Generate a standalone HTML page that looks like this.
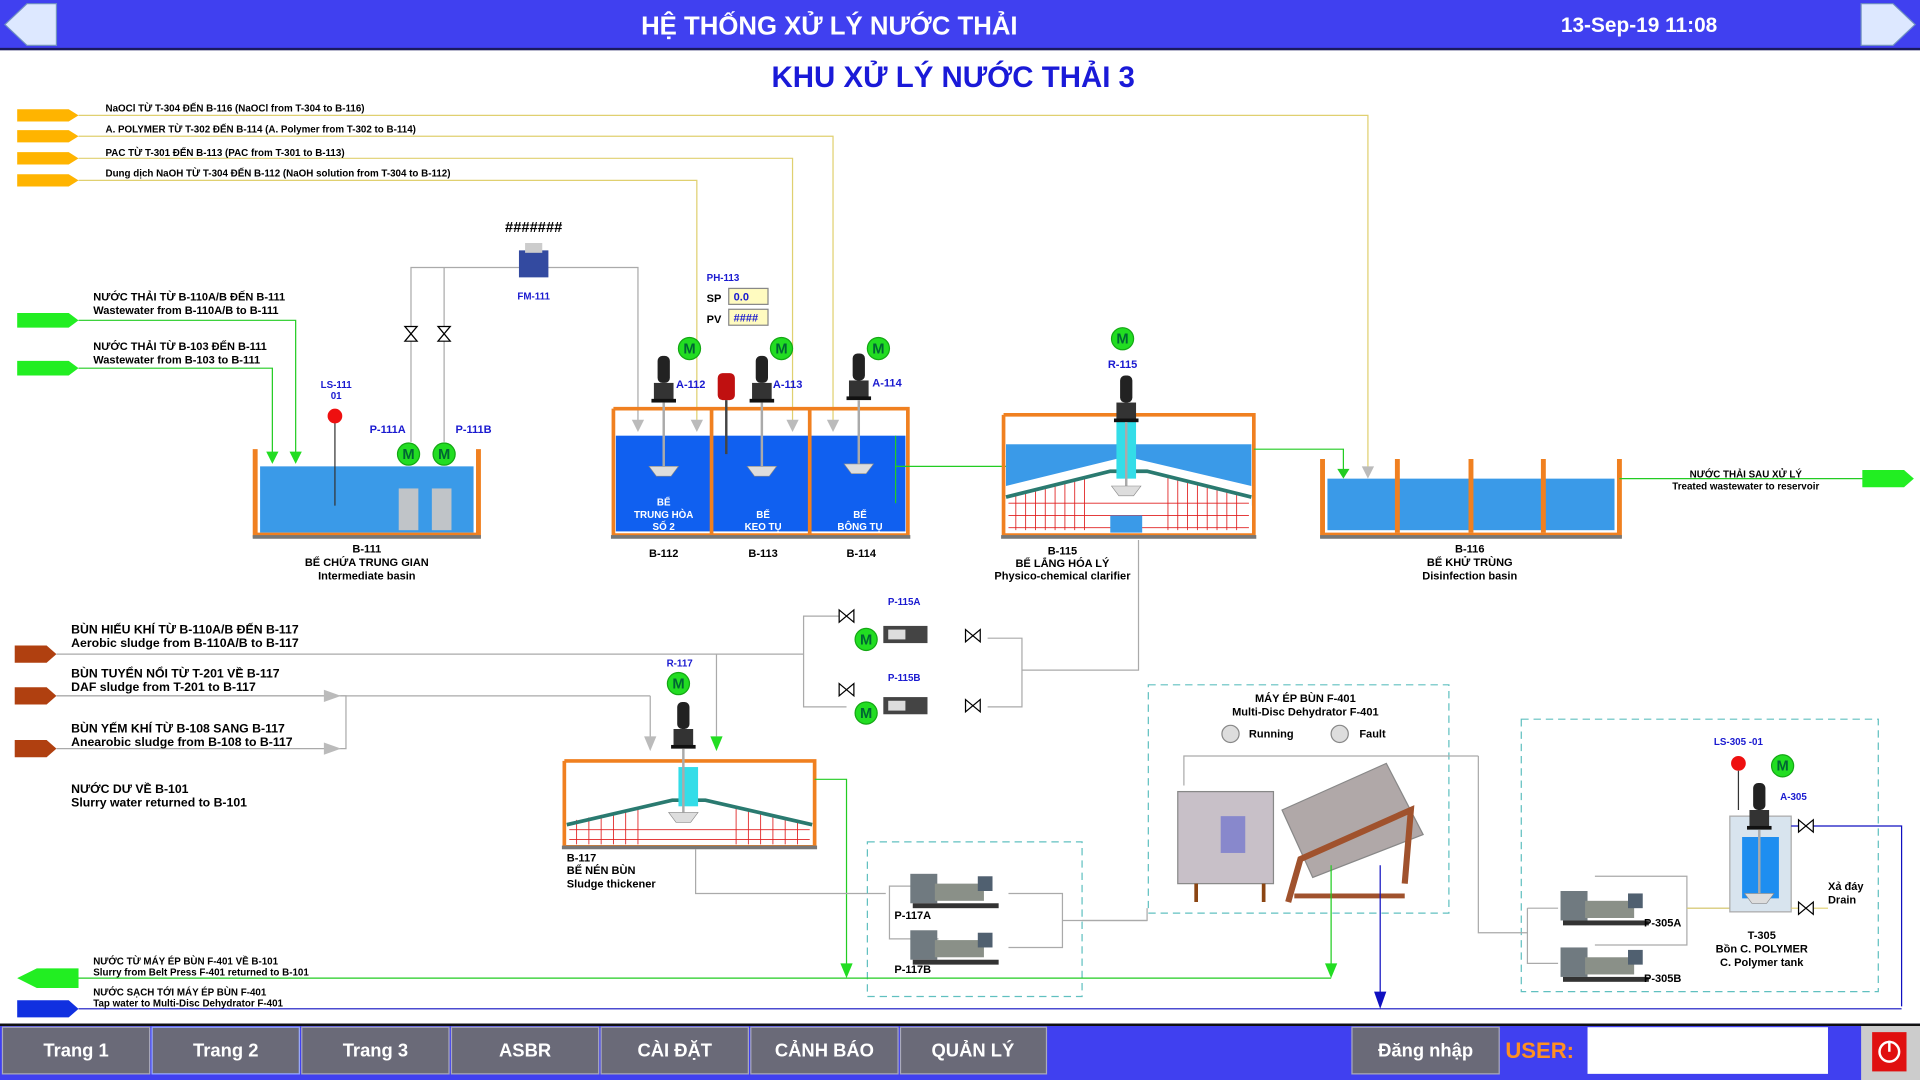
<!DOCTYPE html>
<html><head><meta charset="utf-8"><style>
html,body{margin:0;padding:0;background:#fff;overflow:hidden}
svg{display:block}
text{font-family:"Liberation Sans",sans-serif}
.s{font-size:9px;font-weight:bold;fill:#000}
.b{font-size:10px;font-weight:bold;fill:#000}
.bl{font-size:9px;font-weight:bold;fill:#1a1ad0}
.w{font-size:9px;font-weight:bold;fill:#fff}
</style></head><body>
<svg width="1920" height="1080" viewBox="0 0 1565 880" preserveAspectRatio="none" xmlns="http://www.w3.org/2000/svg">
<defs>
<g id="mot"><circle r="9" fill="#22dd22" stroke="#14a814"/><text y="4" text-anchor="middle" style="font-size:12px;font-weight:bold;fill:#063">M</text></g>
<g id="mix"><rect x="-5" y="-40" width="10" height="22" rx="4" fill="#222"/><rect x="-8" y="-18" width="16" height="14" fill="#333"/><rect x="-10" y="-5" width="20" height="3" fill="#111"/><line x1="0" y1="-2" x2="0" y2="52" stroke="#aaa" stroke-width="2"/><path d="M-12 50 L12 50 L6 58 L-6 58Z" fill="#ddd" stroke="#888" stroke-width=".5"/></g>
<g id="vlv"><path d="M-6 -5 L6 5 L6 -5 L-6 5Z" fill="#fff" stroke="#000"/></g>
<g id="vv"><path d="M-5 -6 L5 6 L-5 6 L5 -6Z" fill="#fff" stroke="#000"/></g>
<g id="pump"><rect x="0" y="0" width="22" height="24" fill="#707a80"/><rect x="20" y="8" width="40" height="14" fill="#8a9088"/><rect x="55" y="2" width="12" height="12" fill="#506070"/><rect x="2" y="24" width="70" height="4" fill="#333"/></g>
</defs>
<!-- header -->
<rect x="0" y="0" width="1565" height="40" fill="#4040f0"/>
<rect x="0" y="39" width="1565" height="2" fill="#1a1a60"/>
<path d="M4 20 L22 3 L46 3 L46 37 L22 37Z" fill="#dde8ff" stroke="#7090c0"/>
<path d="M1561 20 L1543 3 L1517 3 L1517 37 L1543 37Z" fill="#dde8ff" stroke="#7090c0"/>
<text x="676" y="28" text-anchor="middle" style="font-size:21px;font-weight:bold;fill:#fff">HỆ THỐNG XỬ LÝ NƯỚC THẢI</text>
<text x="1336" y="26" text-anchor="middle" style="font-size:17px;font-weight:bold;fill:#fff">13-Sep-19 11:08</text>
<text x="777" y="71" text-anchor="middle" style="font-size:24px;font-weight:bold;fill:#1a1ad8">KHU  XỬ LÝ NƯỚC THẢI 3</text>

<!-- chemical lines -->
<g fill="#ffb400">
<path d="M14 89 L56 89 L64 94 L56 99 L14 99Z"/><path d="M14 106 L56 106 L64 111 L56 116 L14 116Z"/><path d="M14 124 L56 124 L64 129 L56 134 L14 134Z"/><path d="M14 142 L56 142 L64 147 L56 152 L14 152Z"/>
</g>
<g stroke="#e0d070" fill="none">
<path d="M64 94 H1115 V385"/><path d="M64 111 H679 V350"/><path d="M64 129 H646 V350"/><path d="M64 147 H568 V350"/>
</g>
<text x="86" y="91" class="s" style="font-size:8px">NaOCl TỪ T-304 ĐẾN B-116 (NaOCl from T-304 to B-116)</text>
<text x="86" y="108" class="s" style="font-size:8px">A. POLYMER TỪ T-302 ĐẾN B-114 (A. Polymer from T-302 to B-114)</text>
<text x="86" y="127" class="s" style="font-size:8px">PAC TỪ T-301 ĐẾN B-113 (PAC from T-301 to B-113)</text>
<text x="86" y="144" class="s" style="font-size:8px">Dung dịch NaOH TỪ T-304 ĐẾN B-112 (NaOH solution from T-304 to B-112)</text>

<!-- inflow green -->
<g fill="#22ee22"><path d="M14 255 L56 255 L64 261 L56 267 L14 267Z"/><path d="M14 294 L56 294 L64 300 L56 306 L14 306Z"/></g>
<g stroke="#22cc22" fill="none"><path d="M64 261 H241 V372"/><path d="M64 300 H222 V372"/></g>
<path d="M236 368 L246 368 L241 378Z M217 368 L227 368 L222 378Z" fill="#22dd22"/>
<text x="76" y="245" class="s">NƯỚC THẢI TỪ B-110A/B ĐẾN B-111</text>
<text x="76" y="256" class="s">Wastewater from B-110A/B to B-111</text>
<text x="76" y="285" class="s">NƯỚC THẢI TỪ B-103 ĐẾN B-111</text>
<text x="76" y="296" class="s">Wastewater from B-103 to B-111</text>

<!-- B-111 -->
<rect x="212" y="380" width="174" height="54" fill="#3a9ae8"/>
<path d="M208 366 V436 H390 V366" fill="none" stroke="#f08020" stroke-width="4"/>
<rect x="206" y="436" width="186" height="3" fill="#777"/>
<line x1="273" y1="340" x2="273" y2="412" stroke="#333"/><circle cx="273" cy="339" r="6" fill="#ee1010"/>
<text x="274" y="316" text-anchor="middle" class="bl" style="font-size:8px">LS-111</text><text x="274" y="325" text-anchor="middle" class="bl" style="font-size:8px">01</text>
<text x="316" y="353" text-anchor="middle" class="bl">P-111A</text><text x="386" y="353" text-anchor="middle" class="bl">P-111B</text>
<g stroke="#aaa" fill="none"><path d="M335 360 V218 H520 V350"/><path d="M362 360 V218"/></g>
<use href="#vv" x="335" y="272"/><use href="#vv" x="362" y="272"/>
<use href="#mot" x="333" y="370"/><use href="#mot" x="362" y="370"/>
<rect x="325" y="398" width="16" height="34" fill="#c0c4c8"/><rect x="352" y="398" width="16" height="34" fill="#c0c4c8"/>
<rect x="423" y="204" width="24" height="22" fill="#334aa0"/><rect x="428" y="198" width="14" height="8" fill="#ccc"/>
<text x="435" y="189" text-anchor="middle" class="b" style="font-size:12px">#######</text>
<text x="435" y="244" text-anchor="middle" class="bl" style="font-size:8px">FM-111</text>
<text x="299" y="450" text-anchor="middle" class="s">B-111</text>
<text x="299" y="461" text-anchor="middle" class="s">BỂ CHỨA TRUNG GIAN</text>
<text x="299" y="472" text-anchor="middle" class="s">Intermediate basin</text>

<!-- B-112/113/114 -->
<rect x="502" y="355" width="236" height="78" fill="#1060f0"/>
<path d="M500 333 V436 H740 V333 H500" fill="none" stroke="#f08020" stroke-width="3"/>
<line x1="580" y1="333" x2="580" y2="436" stroke="#f08020" stroke-width="3"/><line x1="660" y1="333" x2="660" y2="436" stroke="#f08020" stroke-width="3"/>
<rect x="498" y="436" width="244" height="3" fill="#777"/>
<g fill="#bbb"><path d="M515 342 H525 L520 352Z M563 342 H573 L568 352Z M641 342 H651 L646 352Z M674 342 H684 L679 352Z"/></g>
<use href="#mix" x="541" y="330"/><use href="#mix" x="621" y="330"/><use href="#mix" x="700" y="328"/>
<rect x="585" y="304" width="14" height="22" rx="4" fill="#c01010"/><line x1="592" y1="326" x2="592" y2="370" stroke="#444" stroke-width="2"/>
<use href="#mot" x="562" y="284"/><use href="#mot" x="637" y="284"/><use href="#mot" x="716" y="284"/>
<text x="551" y="316" class="bl">A-112</text><text x="630" y="316" class="bl">A-113</text><text x="711" y="315" class="bl">A-114</text>
<text x="576" y="229" class="bl" style="font-size:8px">PH-113</text>
<text x="576" y="246" class="s">SP</text><text x="576" y="263" class="s">PV</text>
<rect x="594" y="235" width="32" height="13" fill="#fffbc0" stroke="#888"/><rect x="594" y="252" width="32" height="13" fill="#fffbc0" stroke="#888"/>
<text x="598" y="245" class="bl">0.0</text><text x="598" y="262" class="bl">####</text>
<text x="541" y="412" text-anchor="middle" class="w" style="font-size:8px">BỂ</text><text x="541" y="422" text-anchor="middle" class="w" style="font-size:8px">TRUNG HÒA</text><text x="541" y="432" text-anchor="middle" class="w" style="font-size:8px">SỐ 2</text>
<text x="622" y="422" text-anchor="middle" class="w" style="font-size:8px">BỂ</text><text x="622" y="432" text-anchor="middle" class="w" style="font-size:8px">KEO TỤ</text>
<text x="701" y="422" text-anchor="middle" class="w" style="font-size:8px">BỂ</text><text x="701" y="432" text-anchor="middle" class="w" style="font-size:8px">BÔNG TỤ</text>
<text x="541" y="454" text-anchor="middle" class="s">B-112</text><text x="622" y="454" text-anchor="middle" class="s">B-113</text><text x="702" y="454" text-anchor="middle" class="s">B-114</text>
<line x1="730" y1="380" x2="905" y2="380" stroke="#22cc22"/><path d="M895 374 L910 380 L895 386Z" fill="#22cc22"/>
<line x1="730" y1="355" x2="730" y2="410" stroke="#22cc22"/>

<!-- B-115 -->
<rect x="820" y="362" width="200" height="50" fill="#3a9ae8"/>
<path d="M820 396 L918 372 L1020 396 L1020 432 L820 432Z" fill="#fff"/>
<g stroke="#e02020" stroke-width=".7">
<path d="M822 410 H1018 M822 420 H1018 M822 430 H1018"/>
<path d="M828 402V432 M836 400V432 M844 398V432 M852 396V432 M860 394V432 M868 392V432 M876 390V432 M884 388V432 M952 388V432 M960 390V432 M968 392V432 M976 394V432 M984 396V432 M992 398V432 M1000 400V432 M1008 402V432"/>
</g>
<path d="M820 405 L905 384 L935 384 L1020 405" fill="none" stroke="#2a7a70" stroke-width="3"/>
<rect x="905" y="420" width="26" height="14" fill="#3a9ae8"/>
<rect x="910" y="340" width="16" height="50" fill="#33dde8"/>
<path d="M818 338 V436 H1022 V338 H818" fill="none" stroke="#f08020" stroke-width="3"/>
<rect x="816" y="436" width="208" height="3" fill="#777"/>
<use href="#mix" x="918" y="346"/>
<use href="#mot" x="915" y="276"/><text x="915" y="300" text-anchor="middle" class="bl">R-115</text>
<text x="866" y="452" text-anchor="middle" class="s">B-115</text><text x="866" y="462" text-anchor="middle" class="s">BỂ LẮNG HÓA LÝ</text><text x="866" y="472" text-anchor="middle" class="s">Physico-chemical clarifier</text>
<path d="M1022 366 H1095 V385" fill="none" stroke="#22cc22"/><path d="M1090 382 H1100 L1095 390Z" fill="#22cc22"/>
<path d="M1110 380 H1120 L1115 390Z" fill="#bbb"/>

<!-- B-116 -->
<rect x="1082" y="390" width="234" height="42" fill="#3a9ae8"/>
<path d="M1078 374 V436 H1320 V374" fill="none" stroke="#f08020" stroke-width="4"/>
<g fill="#f08020"><rect x="1137" y="374" width="4" height="60"/><rect x="1197" y="374" width="4" height="60"/><rect x="1256" y="374" width="4" height="60"/></g>
<rect x="1076" y="436" width="246" height="3" fill="#777"/>
<text x="1198" y="450" text-anchor="middle" class="s">B-116</text><text x="1198" y="461" text-anchor="middle" class="s">BỂ KHỬ TRÙNG</text><text x="1198" y="472" text-anchor="middle" class="s">Disinfection basin</text>
<line x1="1320" y1="390" x2="1520" y2="390" stroke="#22cc22"/>
<path d="M1518 383 L1552 383 L1560 390 L1552 397 L1518 397Z" fill="#22ee22"/>
<text x="1423" y="389" text-anchor="middle" class="s" style="font-size:8px">NƯỚC THẢI SAU XỬ LÝ</text>
<text x="1423" y="399" text-anchor="middle" class="s" style="font-size:8px">Treated wastewater to reservoir</text>

<!-- sludge inputs -->
<g fill="#b04010"><path d="M12 526 L38 526 L46 533 L38 540 L12 540Z"/><path d="M12 560 L38 560 L46 567 L38 574 L12 574Z"/><path d="M12 603 L38 603 L46 610 L38 617 L12 617Z"/></g>
<g stroke="#aaa" fill="none">
<path d="M46 533 H655 M46 567 H282 V610 H46 M270 567 M530 567 V605 M928 440 V546 H833 V520 M805 520 H833 V576 H805 M690 502 H655 V576 H690 M584 533 V600"/>
<path d="M46 567 H530"/>
</g>
<path d="M264 562 L278 567 L264 572Z M264 605 L278 610 L264 615Z M525 600 H535 L530 612Z" fill="#bbb"/>
<path d="M579 600 H589 L584 612Z" fill="#22dd22"/>
<text x="58" y="516" class="b">BÙN HIẾU KHÍ TỪ B-110A/B ĐẾN B-117</text><text x="58" y="527" class="b">Aerobic sludge from B-110A/B to B-117</text>
<text x="58" y="552" class="b">BÙN TUYỂN NỔI TỪ T-201 VỀ B-117</text><text x="58" y="563" class="b">DAF sludge from T-201 to B-117</text>
<text x="58" y="597" class="b">BÙN YẾM KHÍ TỪ B-108 SANG B-117</text><text x="58" y="608" class="b">Anearobic sludge from B-108 to B-117</text>
<text x="58" y="646" class="b">NƯỚC DƯ VỀ B-101</text><text x="58" y="657" class="b">Slurry water returned to B-101</text>

<!-- P-115 -->
<use href="#vlv" x="690" y="502"/><use href="#vlv" x="793" y="518"/><use href="#vlv" x="690" y="562"/><use href="#vlv" x="793" y="575"/>
<use href="#mot" x="706" y="521"/><use href="#mot" x="706" y="581"/>
<rect x="720" y="510" width="36" height="14" fill="#444"/><rect x="724" y="513" width="14" height="8" fill="#ddd"/>
<rect x="720" y="568" width="36" height="14" fill="#444"/><rect x="724" y="571" width="14" height="8" fill="#ddd"/>
<text x="737" y="493" text-anchor="middle" class="bl" style="font-size:8px">P-115A</text><text x="737" y="555" text-anchor="middle" class="bl" style="font-size:8px">P-115B</text>

<!-- B-117 -->
<path d="M462 668 L560 640 L662 668 L662 688 L462 688Z" fill="#fff"/>
<g stroke="#e02020" stroke-width=".7"><path d="M464 676H660 M464 684H660 M470 668V688 M480 666V688 M490 664V688 M500 662V688 M510 660V688 M520 658V688 M600 658V688 M610 660V688 M620 662V688 M630 664V688 M640 666V688 M650 668V688"/></g>
<path d="M462 672 L548 652 L575 652 L662 672" fill="none" stroke="#2a7a70" stroke-width="3"/>
<rect x="553" y="625" width="16" height="32" fill="#33dde8"/>
<path d="M460 620 V690 H664 V620 H460" fill="none" stroke="#f08020" stroke-width="3"/>
<rect x="458" y="689" width="208" height="3" fill="#777"/>
<use href="#mix" x="557" y="612"/>
<use href="#mot" x="553" y="557"/><text x="554" y="543" text-anchor="middle" class="bl" style="font-size:8px">R-117</text>
<text x="462" y="702" class="s">B-117</text><text x="462" y="712" class="s">BỂ NÉN BÙN</text><text x="462" y="723" class="s">Sludge thickener</text>
<path d="M664 635 H690 V790" fill="none" stroke="#22cc22"/><path d="M685 785 H695 L690 797Z" fill="#22dd22"/>
<path d="M567 692 V728 H722" fill="none" stroke="#aaa"/>

<!-- P-117 box -->
<rect x="707" y="686" width="175" height="126" fill="none" stroke="#60c0c0" stroke-dasharray="6,4"/>
<path d="M765 722 H725 V765 H765 M822 728 H866 V772 H822 M866 750 H935" fill="none" stroke="#aaa"/>
<use href="#pump" x="742" y="712"/><use href="#pump" x="742" y="758"/>
<text x="729" y="749" class="s">P-117A</text><text x="729" y="793" class="s">P-117B</text>

<!-- F-401 -->
<rect x="936" y="558" width="245" height="186" fill="none" stroke="#60c0c0" stroke-dasharray="6,4"/>
<text x="1064" y="572" text-anchor="middle" class="s">MÁY ÉP BÙN F-401</text><text x="1064" y="583" text-anchor="middle" class="s">Multi-Disc Dehydrator F-401</text>
<circle cx="1003" cy="598" r="7" fill="#ddd" stroke="#888"/><text x="1018" y="601" class="s">Running</text>
<circle cx="1092" cy="598" r="7" fill="#ddd" stroke="#888"/><text x="1108" y="601" class="s">Fault</text>
<path d="M1205 616 H965 V640" fill="none" stroke="#aaa"/>
<rect x="960" y="645" width="78" height="75" fill="#c8c0c8" stroke="#888"/>
<rect x="995" y="665" width="20" height="30" fill="#88c"/>
<path d="M975 720 V735 M1030 720 V735" stroke="#8b4513" stroke-width="3"/>
<path d="M1045 660 L1130 622 L1160 680 L1070 715Z" fill="#b0a8a8" stroke="#888"/>
<path d="M1050 735 L1060 700 L1150 660 L1145 720" fill="none" stroke="#a0522d" stroke-width="5"/>
<path d="M1055 730 H1145" stroke="#a0522d" stroke-width="4"/>
<path d="M1085 705 V795" stroke="#22cc22" fill="none"/><path d="M1080 785 H1090 L1085 797Z" fill="#22dd22"/>
<path d="M1125 705 V815" stroke="#1010c0" fill="none"/><path d="M1120 808 H1130 L1125 822Z" fill="#1010c0"/>
<path d="M882 750 H935 V740" fill="none" stroke="#aaa"/>

<!-- T-305 box -->
<rect x="1240" y="586" width="291" height="222" fill="none" stroke="#60c0c0" stroke-dasharray="6,4"/>
<path d="M1205 616 V760 H1245 M1245 740 V785 H1270 M1245 740 H1270 M1300 714 H1375 V745 M1300 770 H1375 V745 M1375 740 H1410" fill="none" stroke="#aaa"/>
<path d="M1375 740 H1410" stroke="#e0d070"/>
<use href="#pump" x="1272" y="726"/><use href="#pump" x="1272" y="772"/>
<text x="1340" y="755" class="s">P-305A</text><text x="1340" y="800" class="s">P-305B</text>
<rect x="1410" y="665" width="50" height="78" fill="#d8e4ee" stroke="#aaa"/>
<rect x="1420" y="682" width="30" height="50" fill="#1e8ef0"/>
<use href="#mix" x="1434" y="678" transform="translate(0,0)"/>
<circle cx="1417" cy="622" r="6" fill="#ee1010"/><line x1="1417" y1="628" x2="1417" y2="660" stroke="#333"/>
<use href="#mot" x="1453" y="624"/><text x="1417" y="607" text-anchor="middle" class="bl" style="font-size:8px">LS-305 -01</text>
<text x="1451" y="652" class="bl" style="font-size:8px">A-305</text>
<path d="M1460 673 H1550 V820" fill="none" stroke="#1010c0"/><path d="M1460 740 H1490" stroke="#e0d070"/>
<use href="#vv" x="1472" y="673" transform="rotate(90 1472 673)"/><use href="#vv" x="1472" y="740" transform="rotate(90 1472 740)"/>
<text x="1490" y="725" class="s">Xả đáy</text><text x="1490" y="736" class="s">Drain</text>
<text x="1436" y="765" text-anchor="middle" class="s">T-305</text><text x="1436" y="776" text-anchor="middle" class="s">Bồn C. POLYMER</text><text x="1436" y="787" text-anchor="middle" class="s">C. Polymer tank</text>

<!-- bottom lines -->
<path d="M60 797 H1085" stroke="#22cc22"/><path d="M14 797 L30 789 L64 789 L64 805 L30 805Z" fill="#22ee22"/>
<path d="M64 822 H1550" stroke="#1010c0"/><path d="M14 815 L56 815 L64 822 L56 829 L14 829Z" fill="#1030e0"/>
<text x="76" y="786" class="s" style="font-size:8px">NƯỚC TỪ MÁY ÉP BÙN F-401 VỀ B-101</text><text x="76" y="795" class="s" style="font-size:8px">Slurry from Belt Press F-401 returned to B-101</text>
<text x="76" y="811" class="s" style="font-size:8px">NƯỚC SẠCH TỚI MÁY ÉP BÙN F-401</text><text x="76" y="820" class="s" style="font-size:8px">Tap water to Multi-Disc Dehydrator F-401</text>

<!-- bottom bar -->
<rect x="0" y="834" width="1565" height="46" fill="#4040f0"/>
<rect x="0" y="834" width="1565" height="2" fill="#111"/>
<g fill="#6a6a78" stroke="#aab">
<rect x="2" y="837" width="120" height="38"/><rect x="124" y="837" width="120" height="38" stroke="#99aaff"/><rect x="246" y="837" width="120" height="38"/><rect x="368" y="837" width="120" height="38"/><rect x="490" y="837" width="120" height="38"/><rect x="612" y="837" width="120" height="38"/><rect x="734" y="837" width="119" height="38"/><rect x="1102" y="837" width="120" height="38"/>
</g>
<g style="font-size:15px;font-weight:bold;fill:#fff" text-anchor="middle">
<text x="62" y="861">Trang 1</text><text x="184" y="861">Trang 2</text><text x="306" y="861">Trang 3</text><text x="428" y="861">ASBR</text><text x="550" y="861">CÀI ĐẶT</text><text x="672" y="861">CẢNH BÁO</text><text x="793" y="861">QUẢN LÝ</text><text x="1162" y="861">Đăng nhập</text>
</g>
<text x="1227" y="862" style="font-size:18px;font-weight:bold;fill:#ff9020">USER:</text>
<rect x="1294" y="837" width="196" height="38" fill="#fff"/>
<rect x="1517" y="836" width="48" height="44" fill="#ccc"/>
<rect x="1526" y="841" width="28" height="32" fill="#e01010"/>
<circle cx="1540" cy="857" r="8" fill="none" stroke="#fff" stroke-width="2"/><line x1="1540" y1="848" x2="1540" y2="857" stroke="#fff" stroke-width="2"/>
</svg>
</body></html>
